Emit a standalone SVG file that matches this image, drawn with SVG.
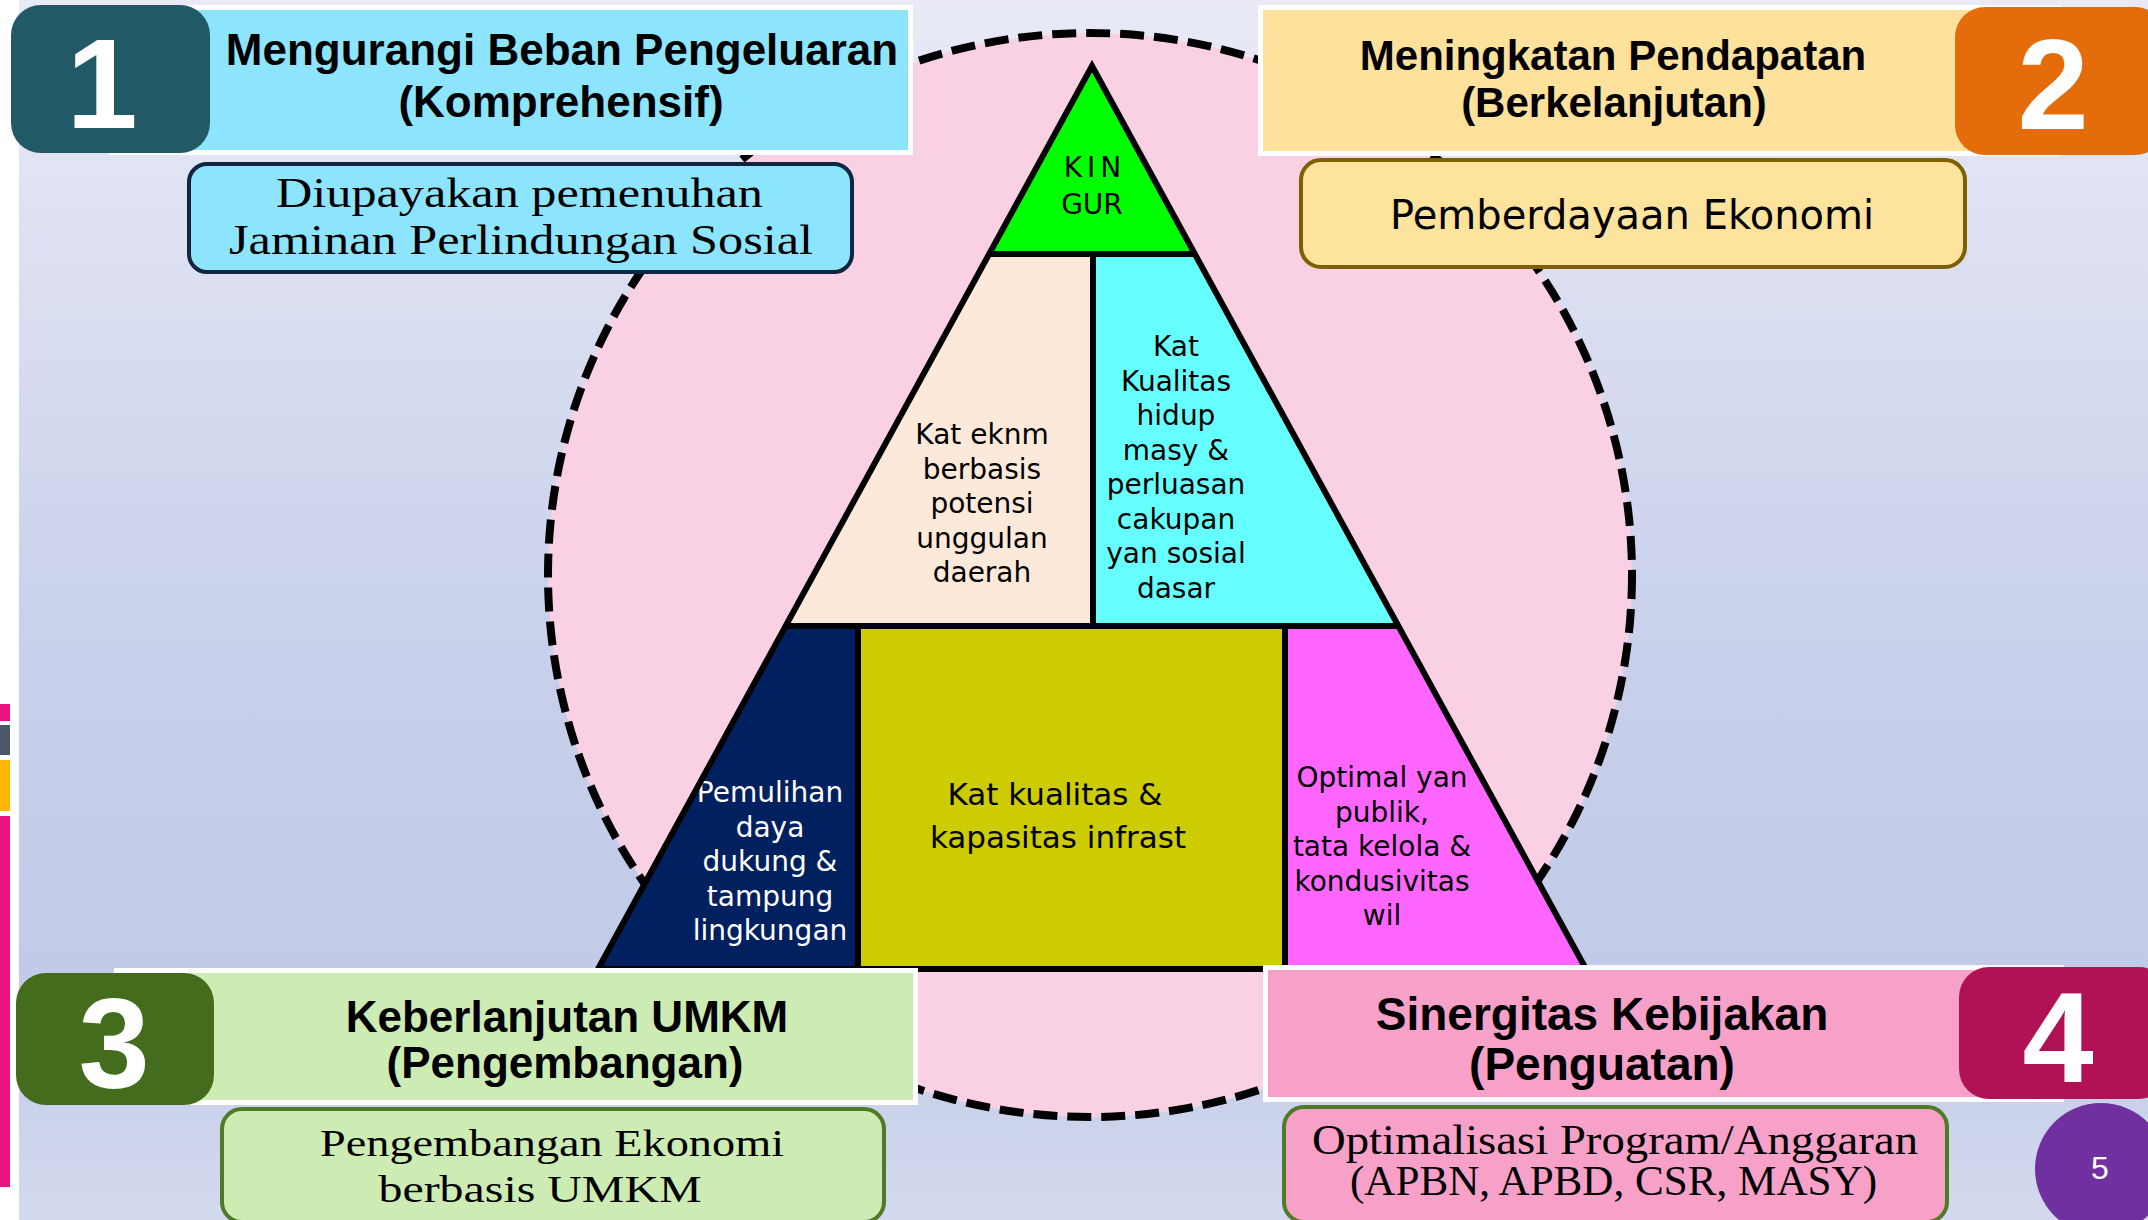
<svg xmlns="http://www.w3.org/2000/svg" width="2148" height="1220" viewBox="0 0 2148 1220">
<defs>
<linearGradient id="bg" x1="0" y1="0" x2="0" y2="1">
<stop offset="0" stop-color="#e9eaf6"/>
<stop offset="0.55" stop-color="#c7cfea"/>
<stop offset="0.8" stop-color="#c1cae7"/>
<stop offset="1" stop-color="#d3daef"/>
</linearGradient>
<style>
.title{font-family:"Liberation Sans",Arial,sans-serif;font-weight:bold;fill:#000;text-anchor:middle}
.num{font-family:"Liberation Sans",Arial,sans-serif;font-weight:bold;fill:#fff;text-anchor:middle;font-size:128px}
.serif{font-family:"Liberation Serif","Times New Roman",serif;fill:#000;text-anchor:middle}
.cell{font-family:"DejaVu Sans",sans-serif;font-size:28px;text-anchor:middle;fill:#000}
.big{font-size:31px}
.wt{fill:#fff}
.edge{fill:none;stroke:#000;stroke-width:6;stroke-linejoin:miter;stroke-linecap:butt}
.wbox{stroke:#fff;stroke-width:5}
</style>
</defs>
<rect x="0" y="0" width="2148" height="1220" fill="#fff"/>
<rect x="19" y="0" width="2129" height="1220" fill="url(#bg)"/>
<g id="side-bars">
<rect x="0" y="704" width="10" height="17" fill="#ec1380"/>
<rect x="0" y="725" width="10" height="30" fill="#4b5669"/>
<rect x="0" y="760" width="10" height="51" fill="#ffb600"/>
<rect x="0" y="816" width="10" height="371" fill="#ec1380"/>
</g>
<g id="circle">
<circle cx="1090" cy="575" r="542" fill="#fad0e4" stroke="#000" stroke-width="8" stroke-dasharray="24 10"/>
</g>
<g id="connectors"></g>
<g id="pyramid">
<g id="cell-kingur">
<polygon points="1092,66 989.2,254 1194.8,254" fill="#00ff00"/>
<text class="cell" x="1095" y="177" letter-spacing="5">KIN</text>
<text class="cell" x="1092" y="214">GUR</text>
</g>
<g id="cell-eknm">
<polygon points="989.2,254 1093,254 1093,626 785.7,626" fill="#fde9d9"/>
<text class="cell" x="982" y="444">Kat eknm</text>
<text class="cell" x="982" y="478.5">berbasis</text>
<text class="cell" x="982" y="513">potensi</text>
<text class="cell" x="982" y="547.5">unggulan</text>
<text class="cell" x="982" y="582">daerah</text>
</g>
<g id="cell-kualitas">
<polygon points="1093,254 1194.8,254 1398.3,626 1093,626" fill="#66ffff"/>
<text class="cell" x="1176" y="356">Kat</text>
<text class="cell" x="1176" y="390.5">Kualitas</text>
<text class="cell" x="1176" y="425">hidup</text>
<text class="cell" x="1176" y="459.5">masy &amp;</text>
<text class="cell" x="1176" y="494">perluasan</text>
<text class="cell" x="1176" y="528.5">cakupan</text>
<text class="cell" x="1176" y="563">yan sosial</text>
<text class="cell" x="1176" y="597.5">dasar</text>
</g>
<g id="cell-pemulihan">
<polygon points="785.7,626 858,626 858,969 598,969" fill="#002060"/>
<text class="cell wt" x="770" y="802">Pemulihan</text>
<text class="cell wt" x="770" y="836.5">daya</text>
<text class="cell wt" x="770" y="871">dukung &amp;</text>
<text class="cell wt" x="770" y="905.5">tampung</text>
<text class="cell wt" x="770" y="940">lingkungan</text>
</g>
<g id="cell-infrast">
<rect x="858" y="626" width="427" height="343" fill="#cccc00"/>
<text class="cell big" x="1055" y="805">Kat kualitas &amp;</text>
<text class="cell big" x="1058" y="848">kapasitas infrast</text>
</g>
<g id="cell-optimal">
<polygon points="1285,626 1398.3,626 1586,969 1285,969" fill="#ff66ff"/>
<text class="cell" x="1382" y="787">Optimal yan</text>
<text class="cell" x="1382" y="821.5">publik,</text>
<text class="cell" x="1382" y="856">tata kelola &amp;</text>
<text class="cell" x="1382" y="890.5">kondusivitas</text>
<text class="cell" x="1382" y="925">wil</text>
</g>
<g id="pyramid-lines">
<polygon class="edge" points="1092,66 1586,969 598,969"/>
<line class="edge" x1="989" y1="254" x2="1195" y2="254"/>
<line class="edge" x1="785" y1="626" x2="1399" y2="626"/>
<line class="edge" x1="1093" y1="254" x2="1093" y2="626"/>
<line class="edge" x1="858" y1="626" x2="858" y2="969"/>
<line class="edge" x1="1285" y1="626" x2="1285" y2="969"/>
</g>
</g>
<g id="box1">
<rect class="wbox" x="111.5" y="7.5" width="799" height="145" fill="#8de5fd"/>
<rect x="11" y="5" width="199" height="148" rx="30" fill="#215967"/>
<text class="num" x="102" y="128">1</text>
<text class="title" x="562" y="65" font-size="44">Mengurangi Beban Pengeluaran</text>
<text class="title" x="561" y="117" font-size="44">(Komprehensif)</text>
</g>
<g id="sub1">
<rect x="189" y="164" width="663" height="108" rx="18" fill="#8de5fd" stroke="#10253f" stroke-width="4"/>
<text class="serif" x="519.5" y="207" font-size="42" textLength="487" lengthAdjust="spacingAndGlyphs">Diupayakan pemenuhan</text>
<text class="serif" x="521" y="254" font-size="42" textLength="584" lengthAdjust="spacingAndGlyphs">Jaminan Perlindungan Sosial</text>
</g>
<g id="box2">
<rect class="wbox" x="1260.5" y="7.5" width="798" height="146" fill="#fee19b"/>
<rect x="1955" y="7" width="210" height="148" rx="30" fill="#e46c0a"/>
<text class="num" x="2053" y="129">2</text>
<text class="title" x="1613" y="70" font-size="42">Meningkatan Pendapatan</text>
<text class="title" x="1614" y="117" font-size="42">(Berkelanjutan)</text>
</g>
<g id="sub2">
<rect x="1301" y="160" width="664" height="107" rx="20" fill="#fee39c" stroke="#7f6000" stroke-width="4"/>
<text x="1632" y="229" font-family="DejaVu Sans, sans-serif" font-size="40" text-anchor="middle" fill="#000">Pemberdayaan Ekonomi</text>
</g>
<g id="box3">
<rect class="wbox" x="116.5" y="970.5" width="799" height="132" fill="#cdecb4"/>
<rect x="16" y="973" width="198" height="132" rx="30" fill="#436d1c"/>
<text class="num" x="114" y="1088">3</text>
<text class="title" x="567" y="1032" font-size="44">Keberlanjutan UMKM</text>
<text class="title" x="565" y="1078" font-size="44">(Pengembangan)</text>
</g>
<g id="sub3">
<rect x="222" y="1109" width="662" height="113" rx="20" fill="#cdecb4" stroke="#4f7a28" stroke-width="4"/>
<text class="serif" x="552" y="1156" font-size="38" textLength="464" lengthAdjust="spacingAndGlyphs">Pengembangan Ekonomi</text>
<text class="serif" x="540" y="1202" font-size="38" textLength="323" lengthAdjust="spacingAndGlyphs">berbasis UMKM</text>
</g>
<g id="box4">
<rect class="wbox" x="1265.5" y="967.5" width="796" height="132" fill="#f7a1c8"/>
<rect x="1959" y="967" width="210" height="132" rx="30" fill="#b11256"/>
<text class="num" x="2058" y="1082">4</text>
<text class="title" x="1602" y="1030" font-size="46">Sinergitas Kebijakan</text>
<text class="title" x="1602" y="1080" font-size="46">(Penguatan)</text>
</g>
<g id="sub4">
<rect x="1284" y="1107" width="663" height="115" rx="20" fill="#f7a1c8" stroke="#4f7a28" stroke-width="4"/>
<text class="serif" x="1615" y="1154" font-size="42" textLength="606" lengthAdjust="spacingAndGlyphs">Optimalisasi Program/Anggaran</text>
<text class="serif" x="1613.5" y="1195" font-size="42" textLength="527" lengthAdjust="spacingAndGlyphs">(APBN, APBD, CSR, MASY)</text>
</g>
<g id="page-number">
<circle cx="2101" cy="1169" r="66" fill="#7030a0"/>
<text x="2100" y="1179" font-family="Liberation Sans, Arial, sans-serif" font-size="32" text-anchor="middle" fill="#fff">5</text>
</g>
</svg>
